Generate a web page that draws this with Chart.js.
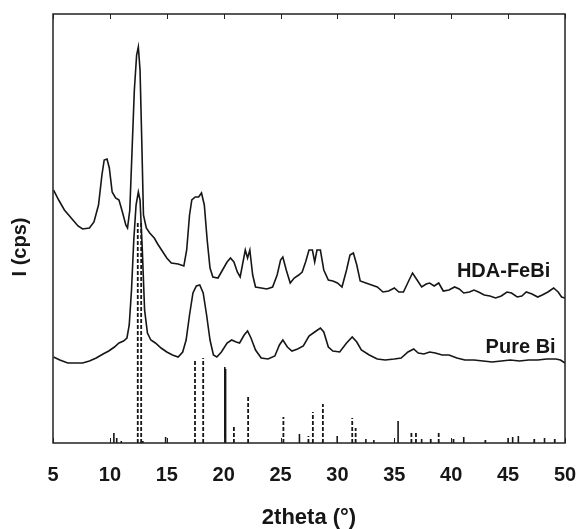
<!DOCTYPE html>
<html>
<head>
<meta charset="utf-8">
<script src="https://cdn.jsdelivr.net/npm/chart.js@4/dist/chart.umd.min.js"></script>
<style>
  html, body { margin: 0; padding: 0; background: #fff; }
  #wrap { width: 579px; height: 529px; }
</style>
</head>
<body>
<div id="wrap"><canvas id="xrd"></canvas></div>
<script>
// HDA-FeBi pattern (2theta, counts in arbitrary units)
const hdaTheta = [5.05, 5.5, 6.0, 6.6, 7.2, 7.6, 8.2, 8.6, 9.0, 9.3, 9.5, 9.75, 9.95, 10.2, 10.5, 10.8, 11.1, 11.4, 11.55, 11.75, 11.95, 12.15, 12.35, 12.5, 12.65, 12.8, 12.95, 13.2, 13.5, 13.9, 14.2, 14.6, 15.0, 15.4, 16.0, 16.5, 16.75, 17.0, 17.2, 17.5, 17.8, 18.05, 18.3, 18.55, 18.8, 19.05, 19.5, 19.9, 20.3, 20.6, 20.9, 21.2, 21.45, 21.7, 21.9, 22.1, 22.3, 22.55, 22.8, 23.3, 23.8, 24.3, 24.7, 25.0, 25.2, 25.5, 25.85, 26.2, 26.6, 26.9, 27.2, 27.5, 27.8, 28.0, 28.2, 28.5, 28.8, 29.2, 29.6, 30.0, 30.4, 30.8, 31.1, 31.4, 31.7, 32.0, 32.5, 33.0, 33.5, 34.0, 34.5, 35.0, 35.4, 35.8, 36.3, 36.6, 37.0, 37.4, 37.8, 38.1, 38.5, 38.9, 39.3, 39.8, 40.3, 40.7, 41.1, 41.6, 42.0, 42.4, 42.9, 43.4, 43.9, 44.4, 44.9, 45.3, 45.8, 46.2, 46.6, 47.1, 47.6, 48.0, 48.5, 49.0, 49.4, 49.7, 50.0];
const hdaCounts = [253, 243, 233, 225, 217, 214, 215, 221, 238, 268, 283, 284, 275, 251, 245, 243, 231, 218, 215, 233, 293, 353, 388, 396, 373, 303, 228, 215, 210, 205, 199, 192, 185, 180, 179, 177, 193, 228, 243, 246, 246, 250, 238, 203, 175, 166, 165, 173, 181, 185, 181, 171, 166, 181, 193, 185, 193, 168, 156, 155, 154, 156, 168, 183, 186, 173, 160, 165, 168, 171, 181, 193, 193, 181, 193, 193, 173, 163, 162, 160, 156, 173, 188, 190, 178, 162, 160, 158, 156, 151, 152, 155, 151, 151, 163, 170, 163, 156, 159, 160, 157, 160, 152, 153, 156, 154, 150, 151, 153, 151, 148, 147, 145, 147, 151, 150, 146, 147, 151, 149, 146, 148, 151, 155, 151, 146, 145];

// Pure Bi pattern
const biTheta = [5.05, 5.6, 6.3, 7.0, 7.6, 8.2, 8.8, 9.4, 9.9, 10.4, 10.8, 11.2, 11.5, 11.7, 11.9, 12.1, 12.3, 12.5, 12.65, 12.85, 13.05, 13.3, 13.6, 14.0, 14.5, 15.0, 15.5, 16.0, 16.4, 16.7, 17.0, 17.3, 17.6, 17.9, 18.2, 18.5, 18.8, 19.1, 19.4, 19.8, 20.3, 20.7, 21.1, 21.4, 21.8, 22.1, 22.4, 22.8, 23.3, 23.9, 24.5, 24.9, 25.2, 25.6, 26.0, 26.5, 27.0, 27.5, 28.0, 28.5, 28.8, 29.2, 29.6, 30.2, 30.8, 31.3, 31.7, 32.1, 32.8, 33.5, 34.2, 35.0, 35.6, 36.2, 36.7, 37.1, 37.6, 38.1, 38.6, 39.2, 39.8, 40.5, 41.2, 42.0, 42.8, 43.6, 44.4, 45.2, 46.0, 46.8, 47.6, 48.4, 49.2, 49.6, 50.0];
const biCounts = [86, 83, 80, 80, 80, 82, 85, 89, 92, 96, 100, 102, 105, 118, 153, 203, 238, 251, 243, 193, 133, 110, 103, 100, 95, 91, 88, 86, 91, 103, 128, 150, 157, 158, 150, 128, 103, 88, 86, 91, 100, 103, 101, 100, 108, 112, 105, 93, 85, 84, 87, 98, 103, 96, 92, 94, 97, 107, 111, 115, 111, 96, 92, 91, 100, 106, 101, 93, 88, 84, 83, 84, 85, 91, 94, 90, 89, 91, 90, 88, 88, 85, 83, 83, 82, 81, 82, 83, 82, 83, 83, 84, 84, 83, 80];

// reference lines, dashed phase
const dashTheta = [12.45, 12.75, 17.48, 18.2, 20.9, 22.15, 25.25, 27.45, 27.84, 28.72, 31.3, 31.6, 36.5, 36.9, 38.2, 38.9, 40.2, 43.0, 47.3, 49.1];
const dashCounts = [221, 221, 83, 85, 18, 46, 26, 7, 31, 39, 25, 15, 10, 10, 6, 10, 5, 3, 4, 4];

// reference lines, solid phase
const solidTheta = [10.35, 10.6, 11.0, 12.9, 14.9, 20.1, 20.17, 26.66, 29.98, 32.5, 33.2, 35.33, 37.4, 41.1, 45.0, 45.4, 45.9, 48.2];
const solidCounts = [10, 5, 2, 2, 6, 76, 74, 9, 7, 4, 3, 22, 4, 6, 5, 6, 7, 5];

const xTicks = [5, 10, 15, 20, 25, 30, 35, 40, 45, 50];

const curve = (xs, ys) => xs.map((x, i) => ({ x, y: ys[i] }));
const sticks = (xs, ys) => xs.flatMap((x, i) => [{ x, y: 0 }, { x, y: ys[i] }, { x, y: null }]);

const ink = "#161616";
const fontFam = "'Liberation Sans', Arial, sans-serif";

// frame, inward ticks, y label and curve names
const decor = {
  id: "decor",
  afterDraw(chart) {
    const { ctx, chartArea: a, scales: { x, y } } = chart;
    ctx.save();
    ctx.strokeStyle = "#222";
    ctx.lineWidth = 1.5;
    ctx.strokeRect(a.left, a.top, a.right - a.left, a.bottom - a.top);
    ctx.lineWidth = 1;
    xTicks.forEach(v => {
      const px = Math.round(x.getPixelForValue(v)) + 0.5;
      ctx.beginPath();
      ctx.moveTo(px, a.top); ctx.lineTo(px, a.top + 5);
      ctx.moveTo(px, a.bottom); ctx.lineTo(px, a.bottom - 5);
      ctx.stroke();
    });

    ctx.fillStyle = ink;
    ctx.font = "bold 20px " + fontFam;
    ctx.textAlign = "center";
    ctx.textBaseline = "middle";
    ctx.fillText("HDA-FeBi", x.getPixelForValue(44.6), y.getPixelForValue(172));
    ctx.fillText("Pure Bi", x.getPixelForValue(46.1), y.getPixelForValue(96));

    ctx.translate(20, 247);
    ctx.rotate(-Math.PI / 2);
    ctx.fillText("I (cps)", 0, 0);
    ctx.restore();
  }
};

new Chart(document.getElementById("xrd"), {
  type: "line",
  data: {
    datasets: [
      { data: curve(hdaTheta, hdaCounts), borderColor: ink, borderWidth: 1.6 },
      { data: curve(biTheta, biCounts), borderColor: ink, borderWidth: 1.6 },
      { data: sticks(dashTheta, dashCounts), borderColor: ink, borderWidth: 1.8, borderDash: [4, 2], spanGaps: false },
      { data: sticks(solidTheta, solidCounts), borderColor: ink, borderWidth: 1.6, spanGaps: false }
    ]
  },
  options: {
    responsive: true,
    maintainAspectRatio: false,
    animation: false,
    layout: { padding: { left: 53, right: 14, top: 14, bottom: 0 } },
    elements: { point: { radius: 0 }, line: { tension: 0 } },
    plugins: { legend: { display: false }, tooltip: { enabled: false } },
    scales: {
      x: {
        type: "linear",
        min: 5,
        max: 50,
        afterBuildTicks: s => { s.ticks = xTicks.map(v => ({ value: v })); },
        afterFit: s => { s.height = 86; s.paddingLeft = 0; s.paddingRight = 0; },
        grid: { display: false, drawTicks: false },
        border: { display: false },
        ticks: { color: ink, padding: 20, font: { family: fontFam, size: 20, weight: "bold" } },
        title: {
          display: true,
          text: "2theta (°)",
          color: ink,
          padding: { top: 0, bottom: 0 },
          font: { family: fontFam, size: 22, weight: "bold", lineHeight: 1 }
        }
      },
      y: {
        display: false,
        min: 0,
        max: 429
      }
    }
  },
  plugins: [decor]
});
</script>
</body>
</html>
